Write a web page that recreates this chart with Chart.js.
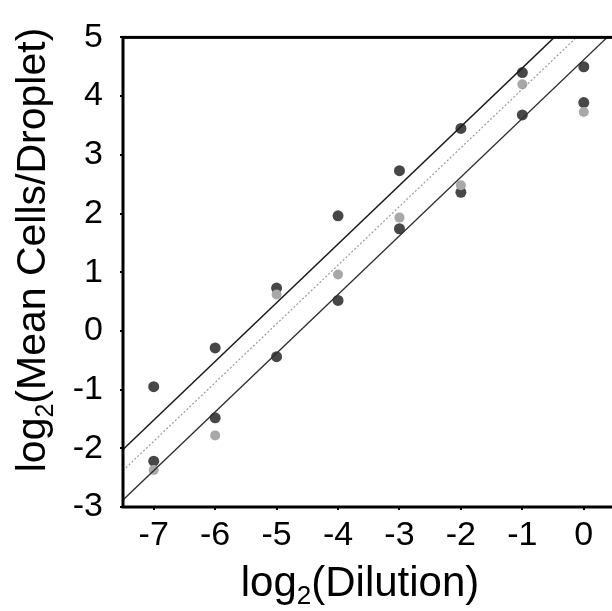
<!DOCTYPE html>
<html><head><meta charset="utf-8">
<script src="https://cdn.jsdelivr.net/npm/chart.js@4/dist/chart.umd.min.js"></script>
<style>html,body{margin:0;padding:0;background:#fff;overflow:hidden}
#wrap{position:relative;width:620px;height:611px}</style>
</head><body><div id="wrap"><canvas id="c" width="620" height="611"></canvas></div>
<script>
// log2(Dilution) categories
const dilution = [-7, -6, -5, -4, -3, -2, -1, 0];
// log2(Mean Cells/Droplet) replicate measurements
const replicateHigh  = [-0.95, -0.29, 0.73, 1.96, 2.73, 3.45, 4.40, 4.50];
const replicateLow   = [-2.22, -1.48, -0.44, 0.52, 1.74, 2.36, 3.68, 3.89];
const replicateLight = [-2.37, -1.78, 0.62, 0.96, 1.93, 2.48, 4.20, 3.73];
// reference lines (end points in data units)
const lineX      = [-7.5, 0.5];
const upperLine  = [-2.02, 5.98];
const middleLine = [-2.38, 5.62];
const lowerLine  = [-2.88, 5.12];
// tick labels
const xTicks = [-7, -6, -5, -4, -3, -2, -1, 0];
const yTicks = [-3, -2, -1, 0, 1, 2, 3, 4, 5];

const FONT = "'Liberation Sans', Arial, Helvetica, sans-serif";
const pts = (ys) => dilution.map((x, i) => ({x, y: ys[i]}));
const seg = (ys) => lineX.map((x, i) => ({x, y: ys[i]}));

const boxPlugin = {
  id: 'box',
  afterDatasetsDraw(chart) {
    const {ctx, chartArea: a} = chart;
    ctx.save();
    ctx.strokeStyle = '#000';
    ctx.lineWidth = 3;
    ctx.strokeRect(a.left, a.top, a.right - a.left, a.bottom - a.top);
    ctx.restore();
  }
};

function drawSubText(ctx, pre, sub, post, size) {
  ctx.font = size + 'px ' + FONT;
  const w1 = ctx.measureText(pre).width;
  const w3 = ctx.measureText(post).width;
  ctx.font = Math.round(size * 0.62) + 'px ' + FONT;
  const w2 = ctx.measureText(sub).width;
  const total = w1 + w2 + w3;
  let x = -total / 2;
  ctx.textAlign = 'left';
  ctx.textBaseline = 'alphabetic';
  ctx.font = size + 'px ' + FONT;
  ctx.fillText(pre, x, 0); x += w1;
  ctx.font = Math.round(size * 0.62) + 'px ' + FONT;
  ctx.fillText(sub, x, size * 0.2); x += w2;
  ctx.font = size + 'px ' + FONT;
  ctx.fillText(post, x, 0);
}

const titlePlugin = {
  id: 'titles',
  afterDraw(chart) {
    const ctx = chart.ctx;
    ctx.save();
    ctx.fillStyle = '#000';
    ctx.translate(360, 596);
    drawSubText(ctx, 'log', '2', '(Dilution)', 42);
    ctx.restore();
    ctx.save();
    ctx.fillStyle = '#000';
    ctx.translate(45, 250);
    ctx.rotate(-Math.PI / 2);
    drawSubText(ctx, 'log', '2', '(Mean Cells/Droplet)', 41);
    ctx.restore();
  }
};

new Chart(document.getElementById('c'), {
  type: 'scatter',
  data: {
    datasets: [
      {type: 'line', data: seg(upperLine), borderColor: '#1a1a1a', borderWidth: 1.5, pointRadius: 0, fill: false},
      {type: 'line', data: seg(middleLine), borderColor: '#9a9a9a', borderWidth: 1.2, borderDash: [2, 2], pointRadius: 0, fill: false},
      {type: 'line', data: seg(lowerLine), borderColor: '#2e2e2e', borderWidth: 1.3, pointRadius: 0, fill: false},
      {data: pts(replicateLight), backgroundColor: '#a8a8a8', borderWidth: 0, pointRadius: 5},
      {data: pts(replicateHigh), backgroundColor: '#474747', borderWidth: 0, pointRadius: 5.5},
      {data: pts(replicateLow), backgroundColor: '#474747', borderWidth: 0, pointRadius: 5.5}
    ]
  },
  options: {
    responsive: false,
    animation: false,
    layout: {padding: {top: 25, right: 5, left: 0, bottom: 0}},
    plugins: {legend: {display: false}, tooltip: {enabled: false}},
    scales: {
      x: {
        type: 'linear', min: -7.5, max: 0.5,
        afterBuildTicks: (s) => { s.ticks = xTicks.map(v => ({value: v})); },
        afterFit: (s) => { s.height = 104; },
        grid: {display: true, drawOnChartArea: false, drawTicks: true, tickLength: 3, color: '#000', lineWidth: 2},
        border: {display: false},
        ticks: {color: '#000', font: {family: FONT, size: 34}, padding: 5, maxRotation: 0, autoSkip: false,
                callback: (v) => String(v)}
      },
      y: {
        type: 'linear', min: -3, max: 5,
        afterBuildTicks: (s) => { s.ticks = yTicks.map(v => ({value: v})); },
        afterFit: (s) => { s.width = 123; },
        grid: {display: true, drawOnChartArea: false, drawTicks: true, tickLength: 3, color: '#000', lineWidth: 2},
        border: {display: false},
        ticks: {color: '#000', font: {family: FONT, size: 34}, padding: 17, autoSkip: false,
                callback: (v) => String(v)}
      }
    }
  },
  plugins: [boxPlugin, titlePlugin]
});
</script>
</body></html>
